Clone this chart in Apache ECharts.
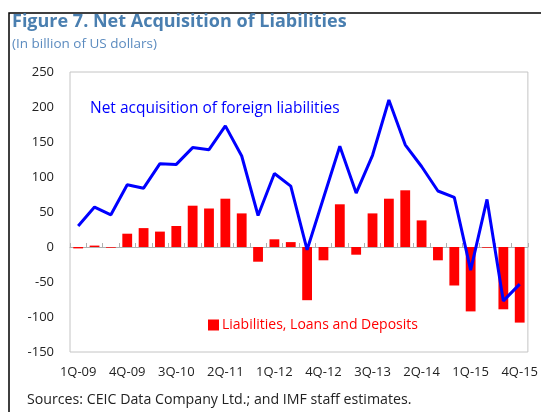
<!DOCTYPE html>
<html>
<head>
<meta charset="utf-8">
<script src="https://cdn.jsdelivr.net/npm/echarts@6/dist/echarts.min.js"></script>
<style>
    html, body { margin: 0; padding: 0; background: #fff; }
    #chart { width: 541px; height: 412px; }
</style>
</head>
<body>
<div id="chart"></div>
<script>
    // quarters 1Q-09 .. 4Q-15
    var quarters = [];
    ['09', '10', '11', '12', '13', '14', '15'].forEach(function (yr) {
        ['1Q', '2Q', '3Q', '4Q'].forEach(function (q) { quarters.push(q + '-' + yr); });
    });

    // Net acquisition of foreign liabilities (line)
    var netForeign = [30, 57, 46, 89, 84, 119, 118, 142, 139, 173, 130, 45, 105,
        87, -4, 70, 144, 77, 131, 210, 146, 115, 80, 71, -33, 68, -77, -53];

    // Liabilities, Loans and Deposits (bars)
    var loansDeposits = [-2, 2, -1, 19, 27, 22, 30, 59, 55, 69, 48, -21, 11,
        7, -76, -19, 61, -11, 48, 69, 81, 38, -19, -55, -92, -1, -89, -108];

    var yTicks = { min: -150, max: 250, step: 50 };

    var chart = echarts.init(document.getElementById('chart'));
    var font = '"Open Sans", "Noto Sans", sans-serif';

    chart.setOption({
        animation: false,
        textStyle: { fontFamily: font },
        graphic: [
            {
                type: 'rect',
                shape: { x: 9, y: 13, width: 700, height: 600 },
                style: { fill: 'none', stroke: '#000', lineWidth: 1.5 }
            },
            {
                type: 'text', left: 12, top: 13,
                style: { text: 'Figure 7. Net Acquisition of Liabilities', fill: '#4a7fb0',
                    font: 'bold 18px ' + font }
            },
            {
                type: 'text', left: 12, top: 37,
                style: { text: '(In billion of US dollars)', fill: '#5b8bbf', font: '13.5px ' + font }
            },
            {
                type: 'text', left: 90, top: 101,
                style: { text: 'Net acquisition of foreign liabilities', fill: '#0000ff', font: '15.5px ' + font }
            },
            {
                type: 'text', left: 27, top: 393,
                style: { text: 'Sources: CEIC Data Company Ltd.; and IMF staff estimates.', fill: '#222',
                    font: '14.2px ' + font }
            }
        ],
        legend: {
            data: ['Liabilities, Loans and Deposits'],
            left: 203, top: 313,
            icon: 'rect', itemWidth: 11, itemHeight: 11, itemGap: 4,
            textStyle: { color: '#ff0000', fontSize: 14, fontFamily: font, padding: [0, 0, 0, -2] }
        },
        grid: {
            left: 70, right: 13, top: 72, bottom: 60,
            show: true, borderColor: '#c4c4c4', borderWidth: 1
        },
        xAxis: [
            {
                type: 'category',
                data: quarters,
                position: 'bottom',
                axisLine: { onZero: false, show: false },
                axisTick: { show: false },
                axisLabel: { interval: 2, color: '#222', fontSize: 13, margin: 14 }
            },
            {
                type: 'category',
                data: quarters,
                position: 'bottom',
                axisLine: { onZero: true, lineStyle: { color: '#b0b0b0', width: 1 } },
                axisTick: { show: true, inside: true, length: 4, interval: 0, lineStyle: { color: '#b0b0b0' } },
                axisLabel: { show: false }
            }
        ],
        yAxis: {
            type: 'value',
            min: yTicks.min, max: yTicks.max, interval: yTicks.step,
            axisLine: { show: false },
            axisTick: { show: false },
            splitLine: { show: false },
            axisLabel: { color: '#222', fontSize: 13, margin: 16 }
        },
        series: [
            {
                name: 'Liabilities, Loans and Deposits',
                type: 'bar',
                xAxisIndex: 1,
                data: loansDeposits,
                barWidth: '60%',
                itemStyle: { color: '#ff0000' }
            },
            {
                name: 'Net acquisition of foreign liabilities',
                type: 'line',
                xAxisIndex: 1,
                data: netForeign,
                symbol: 'none',
                lineStyle: { color: '#0000ff', width: 3 },
                itemStyle: { color: '#0000ff' }
            }
        ]
    });
</script>
</body>
</html>
